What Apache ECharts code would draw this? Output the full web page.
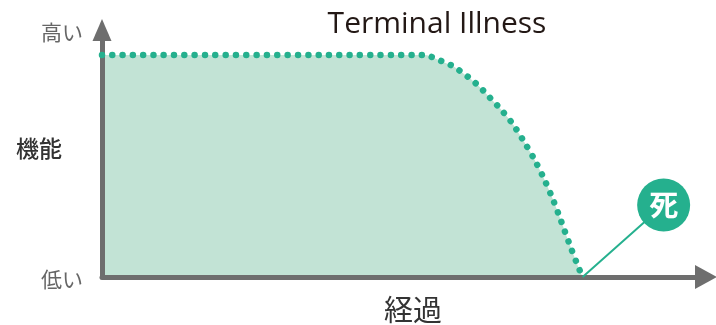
<!DOCTYPE html>
<html>
<head>
<meta charset="utf-8">
<script src="https://cdn.jsdelivr.net/npm/echarts@6/dist/echarts.min.js"></script>
<style>
  html, body { margin: 0; padding: 0; background: #fff; }
  #main { width: 716px; height: 325px; }
</style>
</head>
<body>
<div id="main"></div>
<script>
// 機能の推移 (x: 経過, y: 機能 0-100)
var curveX = [0, 52.6, 54.2, 55.7, 57.2, 58.6, 59.9, 61.2, 62.5, 63.7, 64.8, 66.8, 68.6, 70.5, 72.1, 73.5, 74.8, 76.1, 77.4, 78.3];
var curveY = [100, 100, 98.6, 96.8, 95.0, 92.3, 89.6, 86.5, 82.9, 79.3, 76.1, 69.4, 61.7, 52.7, 43.7, 34.7, 25.2, 15.3, 5.9, 0];
var deathPoint = [91.5, 32.4];
var deathLabel = '死';
var titleText = 'Terminal Illness';
var yHigh = '高い';
var yLow = '低い';
var yName = '機能';
var xName = '経過';

var teal = '#25b08e';
var jpFont = '"Noto Sans CJK JP", sans-serif';

var curve = curveX.map(function (x, i) { return [x, curveY[i]]; });

var myChart = echarts.init(document.getElementById('main'));
var option = {
  animation: false,
  title: {
    text: titleText,
    left: 432,
    top: 4,
    textAlign: 'center',
    textStyle: { fontFamily: '"Open Sans", sans-serif', fontWeight: 'normal', fontSize: 30, color: '#231815' }
  },
  grid: { left: 102, top: 30, right: 10, height: 247 },
  xAxis: {
    type: 'value',
    min: 0,
    max: 98.4,
    z: 3,
    axisLine: { show: true, symbol: ['none', 'triangle'], symbolSize: [24, 22], lineStyle: { color: '#6e6e6e', width: 5 } },
    axisTick: { show: false },
    axisLabel: { show: false },
    splitLine: { show: false }
  },
  yAxis: {
    type: 'value',
    min: 0,
    max: 111.3,
    z: 3,
    axisLine: { show: true, symbol: ['none', 'triangle'], symbolSize: [19, 22], lineStyle: { color: '#6e6e6e', width: 5 } },
    axisTick: { show: false },
    axisLabel: { show: false },
    splitLine: { show: false }
  },
  graphic: [
    { type: 'text', left: 41, top: 22, style: { text: yHigh, fontFamily: jpFont, fontSize: 21, fill: '#666' } },
    { type: 'text', left: 41, top: 269, style: { text: yLow, fontFamily: jpFont, fontSize: 21, fill: '#666' } },
    { type: 'text', left: 16, top: 137, style: { text: yName, fontFamily: jpFont, fontSize: 23, fontWeight: 500, fill: '#333' } },
    { type: 'text', left: 384, top: 295, style: { text: xName, fontFamily: jpFont, fontSize: 29, fill: '#333' } }
  ],
  series: [
    {
      type: 'line',
      data: curve,
      smooth: 0.3,
      symbol: 'none',
      z: 1,
      lineStyle: { width: 0, opacity: 0 },
      areaStyle: { color: '#c2e3d5', opacity: 1 }
    },
    {
      type: 'line',
      data: curve,
      smooth: 0.3,
      symbol: 'none',
      z: 5,
      lineStyle: { color: teal, width: 6.5, type: [0.01, 10.3], cap: 'round' }
    },
    {
      type: 'line',
      data: [[curveX[curveX.length - 1], 0], deathPoint],
      symbol: 'none',
      z: 5,
      lineStyle: { color: teal, width: 2 }
    },
    {
      type: 'scatter',
      data: [deathPoint],
      symbolSize: 53,
      z: 6,
      itemStyle: { color: teal, opacity: 1 },
      label: {
        show: true,
        position: 'inside',
        formatter: deathLabel,
        fontFamily: jpFont,
        fontSize: 29,
        fontWeight: 'bold',
        color: '#fff'
      }
    }
  ]
};
myChart.setOption(option);
</script>
</body>
</html>
